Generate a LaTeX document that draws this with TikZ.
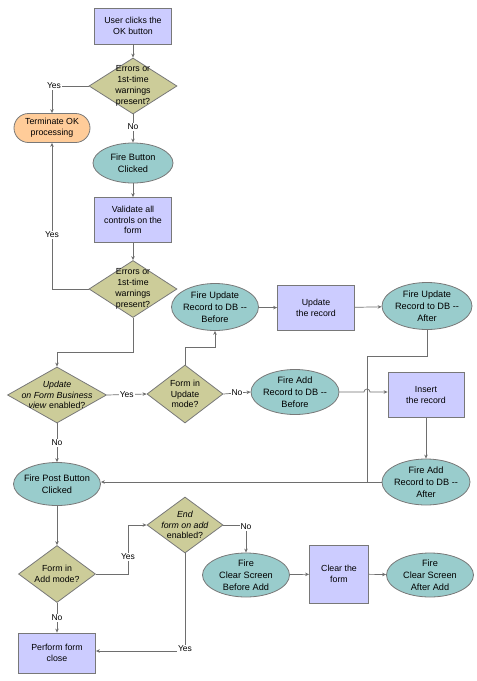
\documentclass[tikz,border=0pt]{standalone}
\usepackage{fontspec}
\setmainfont{Liberation Sans}
\usetikzlibrary{shapes.geometric,shapes.misc,arrows.meta}
\definecolor{rectfill}{RGB}{204,204,255}
\definecolor{diafill}{RGB}{204,204,153}
\definecolor{ellfill}{RGB}{153,204,204}
\definecolor{termfill}{RGB}{255,204,153}
\definecolor{edge}{RGB}{120,120,120}
\definecolor{wire}{RGB}{110,110,110}
\tikzset{
  base/.style={draw=edge, line width=0.8pt, inner sep=0pt},
  boxst/.style={base, rectangle, fill=rectfill},
  diast/.style={base, diamond, fill=diafill},
  ellst/.style={base, ellipse, fill=ellfill},
  termst/.style={base, rounded rectangle, fill=termfill},
  txt/.style={align=center, inner sep=0pt, font=\fontsize{8.8}{10.8}\selectfont},
  etxt/.style={align=center, inner sep=0pt, font=\fontsize{9.2}{11.8}\selectfont},
  lbl/.style={fill=white, inner sep=1pt, font=\fontsize{8.5}{10}\selectfont},
  conn/.style={draw=wire, line width=0.7pt, -{Stealth[length=4pt,width=3.5pt]}},
  plain/.style={draw=wire, line width=0.7pt},
}
\newcommand\shp[7]{\node[#1, minimum width=#4pt, minimum height=#5pt] (#2) at (#3) {}; \node[#7] at (#2) {#6};}
\begin{document}
\begin{tikzpicture}[x=1pt,y=-1pt]
\useasboundingbox (0,0) rectangle (477,681);
% nodes
\shp{boxst}{user}{133,26}{77}{36}{User clicks the\\OK button}{txt}
\shp{diast}{d1}{133,86}{88}{56}{Errors or\\1st-time\\warnings\\present?}{txt}
\shp{termst}{term}{52,128}{76}{29}{Terminate OK\\processing}{txt}
\shp{ellst}{fbc}{133,163}{80}{40}{Fire Button\\Clicked}{etxt}
\shp{boxst}{val}{133,220}{77}{45}{Validate all\\controls on the\\form}{txt}
\shp{diast}{d2}{133,289}{88}{57}{Errors or\\1st-time\\warnings\\present?}{txt}
\shp{ellst}{updB}{215,307}{87}{47}{Fire Update\\Record to DB -{}-\\Before}{etxt}
\shp{boxst}{upd}{316,308}{77}{45}{Update\\the record}{txt}
\shp{ellst}{updA}{427,306}{90}{47}{Fire Update\\Record to DB -{}-\\After}{etxt}
\shp{diast}{d3}{57,395}{99}{56}{\textit{Update}\\\textit{on Form Business}\\\textit{view} enabled?}{txt}
\shp{diast}{d4}{185,394}{76}{58}{Form in\\Update\\mode?}{txt}
\shp{ellst}{addB}{295,392}{88}{45}{Fire Add\\Record to DB -{}-\\Before}{etxt}
\shp{boxst}{ins}{426,395}{76}{45}{Insert\\the record}{txt}
\shp{ellst}{addA}{426,482}{88}{46}{Fire Add\\Record to DB -{}-\\After}{etxt}
\shp{ellst}{fpost}{57,484}{87}{43}{Fire Post Button\\Clicked}{etxt}
\shp{diast}{d5}{57,574}{77}{57}{Form in\\Add mode?}{txt}
\shp{diast}{d6}{185,525}{76}{56}{\textit{End}\\\textit{form on add}\\enabled?}{txt}
\shp{ellst}{clrB}{246,575}{87}{44}{Fire\\Clear Screen\\Before Add}{etxt}
\shp{boxst}{clr}{339,574}{59}{58}{Clear the\\form}{txt}
\shp{ellst}{clrA}{430,575}{87}{44}{Fire\\Clear Screen\\After Add}{etxt}
\shp{boxst}{close}{57,653}{77}{40}{Perform form\\close}{txt}
% connectors
\draw[conn] (user) -- (d1);
\draw[conn] (d1.west) -- (52,86) -- (term.north);
\node[lbl] at (54,86) {Yes};
\draw[conn] (d1.south) -- (fbc.north) node[lbl, pos=0.45] {No};
\draw[conn] (fbc) -- (val);
\draw[conn] (val) -- (d2);
\draw[conn] (d2.west) -- (52,289) -- (term.south);
\node[lbl] at (52,235) {Yes};
\draw[conn] (d2.south) -- (133,352) -- (57,352) -- (d3.north);
\draw[conn] (d3.east) -- (d4.west) node[lbl, midway] {Yes};
\draw[conn] (d4.north) -- (185,347) -- (215,347) -- (updB.south);
\draw[conn] (updB) -- (upd);
\draw[conn] (upd) -- (updA);
\draw[conn] (d4.east) -- (addB.west) node[lbl, midway] {No};
\draw[conn] (addB.east |- 0,392) -- (364,392) arc[start angle=180, end angle=360, radius=3] -- (ins.west |- 0,392);
\draw[plain] (updA.south) -- (427,356) -- (367,356) -- (367,482);
\draw[conn] (ins) -- (addA);
\draw[conn] (addA.west) -- (fpost.east |- 0,482);
\draw[conn] (d3.south) -- (fpost.north) node[lbl, midway] {No};
\draw[conn] (fpost) -- (d5);
\draw[conn] (d5.east) -- (128,574) -- (128,525) -- (d6.west);
\node[lbl] at (128,557) {Yes};
\draw[conn] (d6.east) -- (246,525) -- (clrB.north);
\node[lbl] at (246,527) {No};
\draw[conn] (clrB) -- (clr);
\draw[conn] (clr) -- (clrA);
\draw[conn] (d6.south) -- (185,651) -- (close.east |- 0,651);
\node[lbl] at (185,649) {Yes};
\draw[conn] (d5.south) -- (close.north) node[lbl, midway] {No};
\end{tikzpicture}
\end{document}
